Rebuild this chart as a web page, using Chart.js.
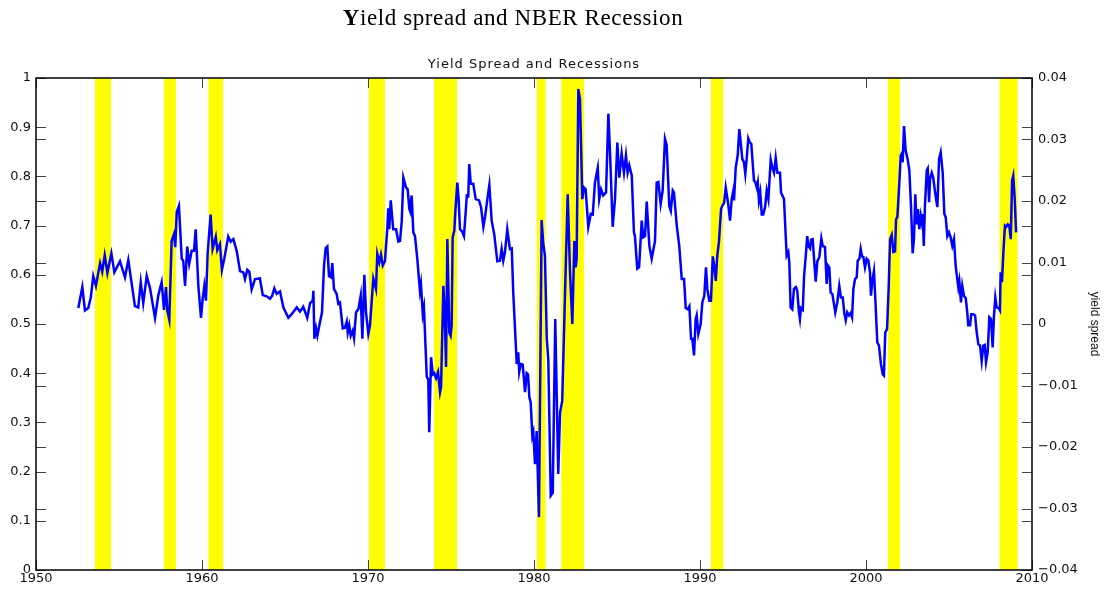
<!DOCTYPE html>
<html>
<head>
<meta charset="utf-8">
<script src="https://cdn.jsdelivr.net/npm/chart.js@4"></script>
<style>
  body { margin: 0; background: #fff; }
  #wrap { position: relative; width: 1106px; height: 592px; }
  #bigTitle {
    position: absolute; left: 0; top: 6px; width: 1026px;
    text-align: center; font: 23px "Liberation Serif", serif; line-height: 23px;
    letter-spacing: 0.6px; color: #000; z-index: 2;
  }
  #subTitle {
    position: absolute; left: 36px; top: 56px; width: 996px;
    text-align: center; font: 13px "DejaVu Sans", sans-serif; line-height: 15px;
    letter-spacing: 1px; color: #111; z-index: 2;
  }
  canvas { position: absolute; left: 0; top: 0; }
</style>
</head>
<body>
<div id="wrap">
  <div id="bigTitle"><b>Y</b>ield spread and NBER Recession</div>
  <div id="subTitle">Yield Spread and Recessions</div>
  <canvas id="spreadChart" width="1106" height="592"></canvas>
</div>
<script>
// decimal years of the yield spread series
const years = [
  1952.55,1952.79,1952.95,1953.15,1953.30,1953.45,1953.61,1953.86,1953.99,1954.14,
  1954.30,1954.54,1954.72,1955.06,1955.36,1955.56,1955.96,1956.16,1956.31,1956.46,
  1956.67,1956.87,1957.17,1957.37,1957.57,1957.71,1957.83,1957.91,1958.03,1958.17,
  1958.31,1958.39,1958.48,1958.61,1958.78,1958.87,1958.98,1959.11,1959.23,1959.38,
  1959.52,1959.62,1959.78,1959.94,1960.04,1960.14,1960.24,1960.34,1960.52,1960.64,
  1960.83,1960.92,1961.08,1961.20,1961.34,1961.58,1961.73,1961.89,1962.09,1962.29,
  1962.49,1962.59,1962.73,1962.85,1962.99,1963.19,1963.49,1963.66,1963.90,1964.10,
  1964.23,1964.36,1964.50,1964.70,1964.90,1965.20,1965.40,1965.71,1965.90,1966.10,
  1966.34,1966.51,1966.67,1966.71,1966.77,1966.87,1966.95,1967.07,1967.23,1967.35,
  1967.45,1967.55,1967.65,1967.77,1967.85,1967.95,1968.11,1968.21,1968.31,1968.48,
  1968.61,1968.72,1968.78,1968.87,1968.96,1969.08,1969.16,1969.28,1969.42,1969.56,
  1969.66,1969.78,1969.88,1970.02,1970.12,1970.32,1970.48,1970.56,1970.68,1970.78,
  1970.89,1971.02,1971.16,1971.22,1971.28,1971.37,1971.52,1971.69,1971.83,1971.93,
  1972.03,1972.13,1972.29,1972.39,1972.49,1972.53,1972.63,1972.73,1972.83,1972.97,
  1973.13,1973.19,1973.30,1973.37,1973.54,1973.63,1973.69,1973.80,1973.90,1973.99,
  1974.10,1974.22,1974.34,1974.40,1974.54,1974.62,1974.70,1974.78,1974.90,1974.98,
  1975.04,1975.10,1975.20,1975.26,1975.38,1975.46,1975.54,1975.68,1975.78,1975.89,
  1975.95,1976.04,1976.10,1976.19,1976.34,1976.49,1976.69,1976.81,1976.95,1977.05,
  1977.19,1977.31,1977.45,1977.61,1977.79,1977.95,1978.05,1978.15,1978.25,1978.39,
  1978.55,1978.66,1978.75,1978.96,1979.05,1979.11,1979.20,1979.32,1979.46,1979.56,
  1979.64,1979.72,1979.80,1979.90,1979.96,1980.06,1980.16,1980.30,1980.46,1980.56,
  1980.66,1980.77,1980.86,1981.01,1981.13,1981.28,1981.46,1981.57,1981.70,1981.87,
  1982.03,1982.17,1982.31,1982.43,1982.51,1982.57,1982.67,1982.77,1982.91,1983.01,
  1983.11,1983.27,1983.42,1983.54,1983.67,1983.84,1983.93,1984.04,1984.17,1984.34,
  1984.48,1984.58,1984.74,1984.88,1985.02,1985.14,1985.28,1985.42,1985.54,1985.64,
  1985.74,1985.89,1986.02,1986.08,1986.22,1986.33,1986.49,1986.58,1986.69,1986.79,
  1986.95,1987.09,1987.29,1987.39,1987.49,1987.63,1987.75,1987.89,1987.99,1988.15,
  1988.24,1988.36,1988.43,1988.60,1988.75,1988.90,1989.04,1989.14,1989.26,1989.36,
  1989.46,1989.54,1989.64,1989.74,1989.80,1989.90,1990.04,1990.14,1990.26,1990.36,
  1990.44,1990.56,1990.66,1990.77,1990.84,1990.95,1991.04,1991.14,1991.27,1991.34,
  1991.45,1991.55,1991.70,1991.81,1991.91,1992.01,1992.05,1992.15,1992.27,1992.37,
  1992.47,1992.55,1992.65,1992.73,1992.81,1992.91,1993.01,1993.09,1993.17,1993.25,
  1993.33,1993.42,1993.48,1993.55,1993.63,1993.72,1993.81,1993.92,1994.02,1994.12,
  1994.26,1994.36,1994.46,1994.56,1994.66,1994.82,1994.88,1995.06,1995.22,1995.32,
  1995.38,1995.46,1995.56,1995.66,1995.78,1995.86,1995.96,1996.02,1996.08,1996.19,
  1996.27,1996.39,1996.46,1996.52,1996.63,1996.69,1996.79,1996.87,1996.97,1997.07,
  1997.19,1997.31,1997.39,1997.53,1997.63,1997.71,1997.79,1997.87,1997.97,1998.07,
  1998.15,1998.27,1998.39,1998.49,1998.60,1998.69,1998.78,1998.87,1998.98,1999.08,
  1999.16,1999.24,1999.34,1999.44,1999.50,1999.60,1999.68,1999.76,1999.84,1999.94,
  2000.04,2000.14,2000.24,2000.30,2000.38,2000.48,2000.58,2000.68,2000.78,2000.90,
  2001.01,2001.08,2001.16,2001.27,2001.37,2001.45,2001.55,2001.65,2001.75,2001.81,
  2001.89,2002.01,2002.09,2002.15,2002.21,2002.29,2002.39,2002.51,2002.61,2002.71,
  2002.81,2002.89,2002.97,2003.05,2003.13,2003.21,2003.30,2003.36,2003.42,2003.48,
  2003.55,2003.66,2003.72,2003.80,2003.86,2003.96,2004.05,2004.14,2004.22,2004.30,
  2004.40,2004.50,2004.62,2004.72,2004.80,2004.90,2005.00,2005.10,2005.20,2005.30,
  2005.40,2005.50,2005.56,2005.62,2005.72,2005.80,2005.90,2006.01,2006.10,2006.16,
  2006.27,2006.34,2006.46,2006.57,2006.67,2006.77,2006.87,2006.97,2007.07,2007.15,
  2007.23,2007.33,2007.43,2007.53,2007.63,2007.71,2007.79,2007.87,2007.99,2008.07,
  2008.11,2008.19,2008.27,2008.37,2008.45,2008.54,2008.63,2008.72,2008.80,2008.87,
  2008.96,2009.04
];

// yield spread (right axis)
const spread = [
  0.0026,0.0060,0.0022,0.0026,0.0043,0.0078,0.0062,0.0099,0.0085,0.0112,
  0.0083,0.0115,0.0084,0.0102,0.0076,0.0104,0.0029,0.0027,0.0068,0.0034,
  0.0078,0.0058,0.0010,0.0047,0.0068,0.0023,0.0060,0.0022,0.0007,0.0135,
  0.0146,0.0125,0.0182,0.0192,0.0106,0.0103,0.0062,0.0126,0.0098,0.0119,
  0.0119,0.0154,0.0062,0.0010,0.0041,0.0062,0.0038,0.0115,0.0178,0.0122,
  0.0142,0.0120,0.0130,0.0088,0.0106,0.0142,0.0134,0.0138,0.0119,0.0086,
  0.0084,0.0073,0.0088,0.0085,0.0056,0.0073,0.0074,0.0047,0.0045,0.0041,
  0.0046,0.0058,0.0049,0.0053,0.0027,0.0010,0.0016,0.0027,0.0020,0.0028,
  0.0010,0.0034,0.0038,0.0054,-0.0024,-0.0007,-0.0019,-0.0002,0.0019,0.0095,
  0.0123,0.0126,0.0078,0.0076,0.0099,0.0057,0.0049,0.0033,0.0035,-0.0007,
  -0.0006,0.0004,-0.0014,-0.0002,-0.0019,-0.0011,-0.0023,0.0019,0.0024,0.0046,
  -0.0024,0.0080,0.0019,-0.0016,-0.0002,0.0074,0.0057,0.0114,0.0100,0.0113,
  0.0095,0.0102,0.0154,0.0188,0.0154,0.0201,0.0154,0.0154,0.0134,0.0135,
  0.0166,0.0238,0.0222,0.0219,0.0187,0.0184,0.0209,0.0149,0.0143,0.0106,
  0.0054,0.0065,0.0016,0.0027,-0.0086,-0.0090,-0.0176,-0.0054,-0.0082,-0.0080,
  -0.0088,-0.0078,-0.0111,-0.0103,0.0062,0.0019,-0.0070,0.0138,-0.0014,-0.0019,
  -0.0002,0.0141,0.0152,0.0182,0.0230,0.0203,0.0154,0.0150,0.0143,0.0184,
  0.0209,0.0208,0.0260,0.0228,0.0228,0.0203,0.0201,0.0190,0.0158,0.0174,
  0.0203,0.0226,0.0168,0.0145,0.0102,0.0103,0.0122,0.0103,0.0117,0.0154,
  0.0122,0.0123,0.0051,-0.0065,-0.0046,-0.0078,-0.0065,-0.0066,-0.0111,-0.0080,
  -0.0082,-0.0119,-0.0127,-0.0182,-0.0176,-0.0228,-0.0174,-0.0314,0.0169,0.0130,
  0.0111,-0.0024,-0.0057,-0.0279,-0.0274,0.0008,-0.0244,-0.0144,-0.0125,0.0051,
  0.0211,0.0084,0.0000,0.0135,0.0092,0.0106,0.0382,0.0366,0.0203,0.0222,
  0.0219,0.0158,0.0179,0.0178,0.0230,0.0254,0.0203,0.0219,0.0209,0.0214,
  0.0342,0.0279,0.0158,0.0203,0.0295,0.0238,0.0277,0.0246,0.0274,0.0246,
  0.0258,0.0241,0.0149,0.0143,0.0090,0.0092,0.0168,0.0141,0.0143,0.0199,
  0.0127,0.0106,0.0135,0.0230,0.0231,0.0195,0.0217,0.0301,0.0291,0.0192,
  0.0184,0.0217,0.0214,0.0160,0.0127,0.0073,0.0073,0.0026,0.0024,0.0029,
  -0.0024,-0.0024,-0.0051,0.0008,0.0014,-0.0016,0.0000,0.0035,0.0046,0.0092,
  0.0057,0.0038,0.0038,0.0110,0.0098,0.0070,0.0111,0.0133,0.0187,0.0192,
  0.0197,0.0222,0.0195,0.0168,0.0203,0.0217,0.0201,0.0254,0.0274,0.0317,
  0.0290,0.0268,0.0263,0.0244,0.0268,0.0302,0.0295,0.0293,0.0263,0.0233,
  0.0231,0.0222,0.0230,0.0201,0.0214,0.0178,0.0178,0.0190,0.0217,0.0203,
  0.0267,0.0254,0.0246,0.0270,0.0246,0.0246,0.0214,0.0203,0.0111,0.0117,
  0.0100,0.0027,0.0024,0.0057,0.0060,0.0054,0.0019,0.0008,0.0026,0.0023,
  0.0078,0.0117,0.0143,0.0127,0.0123,0.0137,0.0138,0.0106,0.0069,0.0102,
  0.0109,0.0139,0.0127,0.0125,0.0065,0.0095,0.0092,0.0051,0.0049,0.0033,
  0.0019,0.0035,0.0062,0.0043,0.0043,0.0018,0.0006,0.0019,0.0014,0.0018,
  0.0011,0.0057,0.0073,0.0076,0.0103,0.0106,0.0122,0.0110,0.0109,0.0092,
  0.0106,0.0103,0.0084,0.0046,0.0070,0.0086,0.0030,-0.0030,-0.0035,-0.0065,
  -0.0082,-0.0084,-0.0014,-0.0008,0.0062,0.0138,0.0145,0.0117,0.0118,0.0170,
  0.0174,0.0230,0.0274,0.0277,0.0263,0.0322,0.0282,0.0268,0.0250,0.0192,
  0.0115,0.0138,0.0211,0.0162,0.0187,0.0154,0.0176,0.0166,0.0179,0.0127,
  0.0192,0.0250,0.0253,0.0198,0.0236,0.0246,0.0238,0.0219,0.0203,0.0190,
  0.0268,0.0279,0.0246,0.0179,0.0174,0.0143,0.0149,0.0141,0.0127,0.0138,
  0.0095,0.0073,0.0060,0.0070,0.0035,0.0062,0.0046,0.0042,0.0019,-0.0002,
  -0.0002,0.0016,0.0016,0.0014,-0.0014,-0.0033,-0.0035,-0.0060,-0.0035,-0.0034,
  -0.0062,-0.0046,0.0011,0.0008,-0.0038,0.0014,0.0043,0.0027,0.0026,0.0022,
  0.0084,0.0068,0.0114,0.0160,0.0158,0.0162,0.0160,0.0138,0.0233,0.0241,
  0.0203,0.0149
];

// NBER recessions (start / end, decimal years)
const recessionStart = [1953.55, 1957.71, 1960.38, 1970.06, 1973.98, 1980.16, 1981.64, 1990.66, 2001.33, 2008.03];
const recessionEnd   = [1954.52, 1958.43, 1961.27, 1971.02, 1975.36, 1980.70, 1983.03, 1991.39, 2002.05, 2009.14];

const xTicks = [1950, 1960, 1970, 1980, 1990, 2000, 2010];

const tickFont = { family: 'DejaVu Sans', size: 13 };

// matlab style: inward ticks on every side + box
const boxTicks = {
  id: 'boxTicks',
  afterDatasetsDraw(chart) {
    const { ctx, chartArea: a, scales } = chart;
    ctx.save();
    ctx.lineWidth = 1;
    ctx.strokeStyle = '#444';
    ctx.beginPath();
    ['y', 'y1'].forEach(id => {
      scales[id].ticks.forEach(t => {
        const p = Math.round(scales[id].getPixelForValue(t.value)) + 0.5;
        ctx.moveTo(a.left, p); ctx.lineTo(a.left + 10, p);
        ctx.moveTo(a.right, p); ctx.lineTo(a.right - 10, p);
      });
    });
    scales.x.ticks.forEach(t => {
      const p = Math.round(scales.x.getPixelForValue(t.value)) + 0.5;
      ctx.moveTo(p, a.top); ctx.lineTo(p, a.top + 10);
      ctx.moveTo(p, a.bottom); ctx.lineTo(p, a.bottom - 10);
    });
    ctx.stroke();
    ctx.lineWidth = 1.5;
    ctx.strokeStyle = '#000';
    ctx.strokeRect(a.left, a.top, a.right - a.left, a.bottom - a.top);
    ctx.restore();
  }
};

const datasets = [{
  label: 'yield spread',
  data: years.map((x, i) => ({ x: x, y: spread[i] })),
  yAxisID: 'y1',
  borderColor: '#0000ff',
  borderWidth: 2.5,
  pointRadius: 0,
  tension: 0,
  fill: false
}];
recessionStart.forEach((s, i) => {
  datasets.push({
    label: 'recession',
    data: [{ x: s, y: 1 }, { x: recessionEnd[i], y: 1 }],
    yAxisID: 'y',
    borderWidth: 0,
    borderColor: 'rgba(0,0,0,0)',
    backgroundColor: '#ffff00',
    pointRadius: 0,
    fill: 'origin'
  });
});

const ctx = document.getElementById('spreadChart').getContext('2d');
new Chart(ctx, {
  type: 'line',
  data: { datasets: datasets },
  options: {
    responsive: false,
    animation: false,
    devicePixelRatio: 1,
    layout: { padding: { top: 78 } },
    scales: {
      x: {
        type: 'linear',
        min: 1950, max: 2010,
        afterBuildTicks: s => { s.ticks = xTicks.map(v => ({ value: v })); },
        afterFit: s => { s.height = 22; },
        grid: { display: false, drawTicks: false },
        border: { display: false },
        ticks: { font: tickFont, color: '#111', padding: 1, maxRotation: 0, callback: v => String(v) }
      },
      y: {
        position: 'left',
        min: 0, max: 1,
        afterFit: s => { s.width = 36; },
        grid: { display: false, drawTicks: false },
        border: { display: false },
        ticks: { stepSize: 0.1, font: tickFont, color: '#111', padding: 5,
                 callback: v => String(Number(v.toFixed(1))) }
      },
      y1: {
        position: 'right',
        min: -0.04, max: 0.04,
        afterFit: s => { s.width = 74; },
        grid: { display: false, drawTicks: false },
        border: { display: false },
        ticks: { stepSize: 0.01, font: tickFont, color: '#111', padding: 6,
                 callback: v => Math.abs(v) < 1e-9 ? '0' : (v < 0 ? '\u2212' : '') + Math.abs(v).toFixed(2) },
        title: { display: true, text: 'yield spread', color: '#111',
                 font: { family: 'Liberation Sans Narrow, Liberation Sans', size: 12 }, padding: { top: 4, bottom: 3 } }
      }
    },
    plugins: {
      legend: { display: false },
      tooltip: { enabled: false },
      title: { display: false }
    }
  },
  plugins: [boxTicks]
});
</script>
</body>
</html>
